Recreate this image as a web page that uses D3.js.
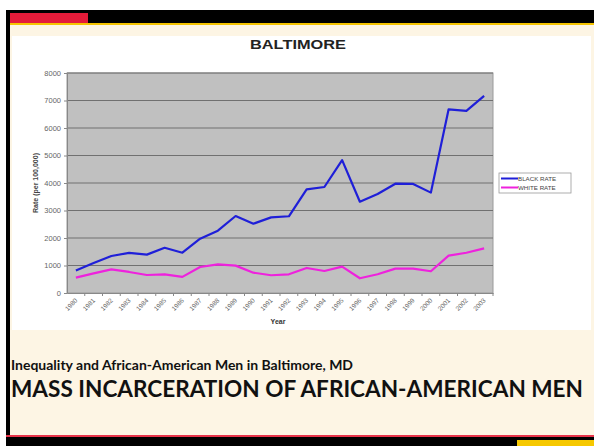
<!DOCTYPE html>
<html>
<head>
<meta charset="utf-8">
<script src="https://d3js.org/d3.v7.min.js"></script>
<style>
  body, html { margin: 0; padding: 0; background: #fff; }
  svg { display: block; }
</style>
</head>
<body>
<svg width="594" height="446"></svg>
<script>
// data
const years = ["1980","1981","1982","1983","1984","1985","1986","1987","1988","1989","1990","1991",
               "1992","1993","1994","1995","1996","1997","1998","1999","2000","2001","2002","2003"];
const blackRate = [820, 1090, 1345, 1460, 1395, 1645, 1465, 1975, 2265, 2800, 2520, 2750,
                   2790, 3770, 3855, 4830, 3320, 3600, 3975, 3965, 3650, 6680, 6620, 7165];
const whiteRate = [560, 715, 860, 765, 655, 680, 585, 945, 1040, 995, 740, 645,
                   680, 910, 800, 960, 535, 680, 885, 885, 790, 1360, 1465, 1625];
const yTicks = [0, 1000, 2000, 3000, 4000, 5000, 6000, 7000, 8000];
const seriesNames = ["BLACK RATE", "WHITE RATE"];
const seriesColors = ["#1f1fd8", "#ee22dd"];

const svg = d3.select("svg");
const font = "Liberation Sans, Arial, sans-serif";

// slide frame
svg.append("rect").attr("x", 6).attr("y", 24).attr("width", 588).attr("height", 413).attr("fill", "#fdf5e4");
svg.append("rect").attr("x", 6).attr("y", 10).attr("width", 588).attr("height", 14).attr("fill", "#000");
svg.append("rect").attr("x", 9).attr("y", 13).attr("width", 79).attr("height", 10).attr("fill", "#e41b39");
svg.append("rect").attr("x", 9).attr("y", 23).attr("width", 585).attr("height", 2).attr("fill", "#f5c400");
svg.append("rect").attr("x", 6).attr("y", 10).attr("width", 4).attr("height", 436).attr("fill", "#000");
svg.append("rect").attr("x", 6).attr("y", 435).attr("width", 588).attr("height", 2).attr("fill", "#e8334a");
svg.append("rect").attr("x", 6).attr("y", 437).attr("width", 588).attr("height", 9).attr("fill", "#000");
svg.append("rect").attr("x", 517).attr("y", 440).attr("width", 77).attr("height", 6).attr("fill", "#f6c800");

// chart picture background
svg.append("rect").attr("x", 12).attr("y", 36).attr("width", 579).attr("height", 294).attr("fill", "#fff");

const plot = { left: 67, right: 493, top: 73, bottom: 293 };

const x = d3.scaleBand().domain(years).range([plot.left, plot.right]);
const y = d3.scaleLinear().domain([0, 8000]).range([plot.bottom, plot.top]);

svg.append("rect")
  .attr("x", plot.left).attr("y", plot.top)
  .attr("width", plot.right - plot.left).attr("height", plot.bottom - plot.top)
  .attr("fill", "#c0c0c0").attr("stroke", "#9a9a9a").attr("stroke-width", 1);

// gridlines
svg.append("g").selectAll("line")
  .data(yTicks.slice(1))
  .join("line")
  .attr("x1", plot.left).attr("x2", plot.right)
  .attr("y1", d => y(d)).attr("y2", d => y(d))
  .attr("stroke", "#707070").attr("stroke-width", 1);

// y axis
const yAxis = svg.append("g")
  .attr("transform", `translate(${plot.left},0)`)
  .call(d3.axisLeft(y).tickValues(yTicks).tickFormat(d3.format("d")).tickSize(3).tickPadding(3));
yAxis.select(".domain").attr("stroke", "#888");
yAxis.selectAll(".tick line").attr("stroke", "#888");
yAxis.selectAll("text").attr("font-family", font)
  .attr("font-size", 7.5).attr("fill", "#666");

// x axis
const xAxis = svg.append("g")
  .attr("transform", `translate(0,${plot.bottom})`)
  .call(d3.axisBottom(x).tickSize(3).tickSizeOuter(0));
xAxis.select(".domain").attr("stroke", "#888");
xAxis.selectAll(".tick line").attr("stroke", "#888")
  .attr("transform", `translate(${x.bandwidth() / 2},0)`);
xAxis.selectAll("text")
  .attr("font-family", font)
  .attr("font-size", 6.5).attr("fill", "#666")
  .attr("text-anchor", "end")
  .attr("dy", null).attr("y", 0)
  .attr("transform", "translate(2,8) rotate(-45)");

// axis titles
svg.append("text")
  .attr("transform", `translate(38,${(plot.top + plot.bottom) / 2}) rotate(-90)`)
  .attr("text-anchor", "middle")
  .attr("font-family", font)
  .attr("font-size", 7).attr("font-weight", "bold").attr("fill", "#444")
  .text("Rate (per 100,000)");

svg.append("text")
  .attr("x", (plot.left + plot.right) / 2 - 2).attr("y", 324)
  .attr("text-anchor", "middle")
  .attr("font-family", font)
  .attr("font-size", 7).attr("font-weight", "bold").attr("fill", "#333")
  .text("Year");

svg.append("text")
  .attr("x", 298).attr("y", 49)
  .attr("text-anchor", "middle")
  .attr("font-family", font)
  .attr("font-size", 13.5).attr("font-weight", "bold").attr("fill", "#222")
  .attr("textLength", 96).attr("lengthAdjust", "spacingAndGlyphs")
  .text("BALTIMORE");

// lines
const line = d3.line()
  .x((d, i) => x(years[i]) + x.bandwidth() / 2)
  .y(d => y(d));

[blackRate, whiteRate].forEach((s, k) => {
  svg.append("path")
    .datum(s)
    .attr("d", line)
    .attr("fill", "none")
    .attr("stroke", seriesColors[k])
    .attr("stroke-width", 2.2)
    .attr("stroke-linejoin", "round");
});

// legend
const lg = svg.append("g").attr("transform", "translate(499,173)");
lg.append("rect").attr("width", 72).attr("height", 20)
  .attr("fill", "#fff").attr("stroke", "#999").attr("stroke-width", 0.8);
seriesNames.forEach((n, k) => {
  lg.append("line").attr("x1", 2).attr("x2", 19)
    .attr("y1", 5.5 + k * 9).attr("y2", 5.5 + k * 9)
    .attr("stroke", seriesColors[k]).attr("stroke-width", 2);
  lg.append("text").attr("x", 19).attr("y", 8 + k * 9)
    .attr("font-family", font)
    .attr("font-size", 6.2).attr("fill", "#444")
    .text(n);
});

// slide captions
svg.append("text")
  .attr("x", 11).attr("y", 370)
  .attr("font-family", "Lato, Open Sans, sans-serif")
  .attr("font-size", 13).attr("font-weight", "bold").attr("fill", "#111")
  .attr("textLength", 342).attr("lengthAdjust", "spacingAndGlyphs")
  .text("Inequality and African-American Men in Baltimore, MD");

svg.append("text")
  .attr("x", 11).attr("y", 397)
  .attr("font-family", "Lato, Open Sans, sans-serif")
  .attr("font-size", 23).attr("font-weight", "bold").attr("fill", "#111")
  .attr("textLength", 572).attr("lengthAdjust", "spacingAndGlyphs")
  .text("MASS INCARCERATION OF AFRICAN-AMERICAN MEN");
</script>
</body>
</html>
